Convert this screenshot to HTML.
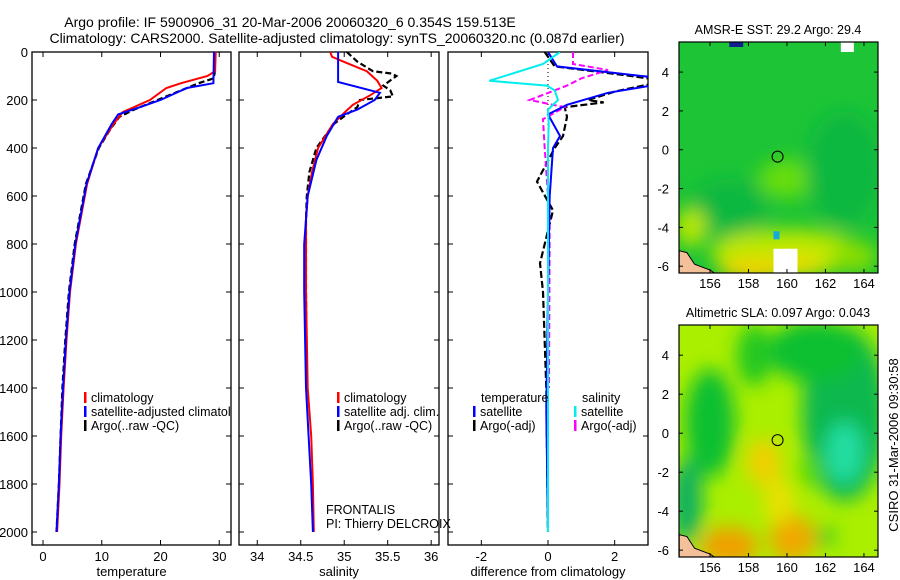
<!DOCTYPE html>
<html><head><meta charset="utf-8"><style>
html,body{margin:0;padding:0;background:#fff;}
svg{display:block;font-family:"Liberation Sans",sans-serif;}
</style></head><body>
<svg id="fig" width="900" height="580" viewBox="0 0 900 580">
<defs>
<filter id="blur1" x="-50%" y="-50%" width="200%" height="200%"><feGaussianBlur stdDeviation="9"/></filter>
<clipPath id="c1"><rect x="32" y="52" width="199" height="493"/></clipPath>
<clipPath id="c2"><rect x="239" y="52" width="200" height="493"/></clipPath>
<clipPath id="c3"><rect x="448" y="52" width="200" height="493"/></clipPath>
<clipPath id="m1"><rect x="679" y="42" width="199" height="231"/></clipPath>
<clipPath id="m2"><rect x="679" y="325" width="199" height="232"/></clipPath>
</defs>
<text x="290" y="27" font-size="14" text-anchor="middle">Argo profile: IF 5900906_31 20-Mar-2006 20060320_6 0.354S 159.513E</text>
<text x="337" y="43" font-size="14" text-anchor="middle">Climatology: CARS2000. Satellite-adjusted climatology: synTS_20060320.nc (0.087d earlier)</text>
<g id="maps"></g>
<g id="panels"></g>
<text transform="translate(898,445) rotate(-90)" font-size="13" text-anchor="middle">CSIRO 31-Mar-2006 09:30:58</text>
</svg>
<script>
// ---------- data ----------
const depthTicks=[0,200,400,600,800,1000,1200,1400,1600,1800,2000];
const tempTicks=[0,10,20,30];
const salTicks=[34,34.5,35,35.5,36];
const salTickLabels=["34","34.5","35","35.5","36"];
const diffTicks=[-2,0,2];
// temperature panel
const tClimDepth=[0,80,100,130,150,200,250,300,400,550,800,1000,1200,1400,1600,1800,2000];
const tClimVal=[29.4,29.3,28.0,23.5,21.0,18.2,13.6,12.0,9.4,7.5,5.6,4.6,4.0,3.5,3.1,2.8,2.4];
const tSatDepth=[0,130,150,200,230,260,300,400,550,800,1000,1200,1400,1600,1800,2000];
const tSatVal=[29.1,29.0,24.5,20.0,16.5,12.8,11.7,9.4,7.4,5.5,4.5,3.9,3.4,3.0,2.7,2.3];
const tArgoDepth=[0,90,110,130,160,200,240,270,320,400,550,800,1000,1200,1400,1600,1800,2000];
const tArgoVal=[29.3,29.2,29.0,26.5,23.5,19.5,15.5,13.0,11.5,9.5,7.3,5.4,4.4,3.8,3.3,3.0,2.7,2.3];
// salinity panel
const sClimDepth=[0,20,40,80,120,150,180,220,250,300,400,500,600,700,1000,1400,1600,1800,2000];
const sClimVal=[34.84,34.86,34.99,35.26,35.38,35.43,35.30,35.10,35.01,34.87,34.70,34.63,34.58,34.56,34.56,34.58,34.62,34.64,34.65];
const sSatDepth=[0,125,170,200,240,270,350,450,600,800,1000,1400,1600,1800,2000];
const sSatVal=[34.93,34.93,35.41,35.35,35.15,34.93,34.80,34.68,34.58,34.54,34.54,34.56,34.59,34.62,34.64];
const sArgoDepth=[0,40,80,90,100,140,160,185,200,230,260,300,400,500,600,700,1000,1400];
const sArgoVal=[35.03,35.15,35.33,35.55,35.60,35.45,35.53,35.56,35.18,35.15,35.03,34.88,34.68,34.60,34.57,34.56,34.56,34.57];
// difference panel
const dTsatDepth=[0,60,100,110,140,170,220,260,350,400,600,1000,1500,2000];
const dTsatVal=[0.0,0.27,2.8,3.5,3.1,1.8,0.57,0.0,0.36,0.15,0.05,0.0,-0.05,0.0];
const dTargoDepth=[0,60,100,120,130,165,200,210,230,270,350,400,540,660,880,1000,1400,2000];
const dTargoVal=[-0.1,0.2,2.5,3.5,3.2,2.0,1.2,1.67,0.5,0.57,0.45,0.2,-0.33,0.15,-0.24,-0.15,-0.05,0.0];
const dSsatDepth=[0,50,120,140,160,200,240,300,400,1000,2000];
const dSsatVal=[0.36,-0.15,-1.76,-0.03,0.2,0.3,0.0,0.02,0.0,0.0,0.0];
const dSargoDepth=[0,50,75,110,140,200,230,280,400,700,1400];
const dSargoVal=[0.75,0.75,1.8,1.0,0.57,-0.55,0.5,-0.15,-0.1,0.05,0.03];
// maps
const lonTicks=[156,158,160,162,164];
const latTicks=[-6,-4,-2,0,2,4];
const argoLon=159.513, argoLat=-0.354;

const NS='http://www.w3.org/2000/svg';
function mk(tag,attrs,parent){const e=document.createElementNS(NS,tag);for(const k in attrs)e.setAttribute(k,attrs[k]);if(parent)parent.appendChild(e);return e;}
const panels=document.getElementById('panels');
const yD=d=>52+d*0.24;

function panel(x0,x1,xmin,xmax,ticks,tickLabels,xlabel,name,clip,showY){
  const sx=v=>x0+(v-xmin)/(xmax-xmin)*(x1-x0);
  const g=mk('g',{},panels);
  
  
  const fr=mk('rect',{x:x0,y:52,width:x1-x0,height:493,fill:'none',stroke:'#000','stroke-width':1.3},g);
  
  
  depthTicks.forEach(d=>{
    mk('line',{x1:x0,x2:x0+5,y1:yD(d),y2:yD(d),stroke:'#000'},g);
    mk('line',{x1:x1-5,x2:x1,y1:yD(d),y2:yD(d),stroke:'#000'},g);
    if(showY){const t=mk('text',{x:28,y:yD(d)+5,'font-size':13,'text-anchor':'end'},g);t.textContent=d;
      
      }
  });
  ticks.forEach((v,i)=>{
    mk('line',{x1:sx(v),x2:sx(v),y1:52,y2:57,stroke:'#000'},g);
    mk('line',{x1:sx(v),x2:sx(v),y1:540,y2:545,stroke:'#000'},g);
    const t=mk('text',{x:sx(v),y:561,'font-size':13,'text-anchor':'middle'},g);t.textContent=tickLabels[i];
    
    
  });
  const xl=mk('text',{x:(x0+x1)/2,y:576,'font-size':13,'text-anchor':'middle'},g);xl.textContent=xlabel;
  
  
  const lines=mk('g',{'clip-path':'url(#'+clip+')'},g);
  return {sx,g,lines};
}
function series(p,depths,vals,color,dash,name,w){
  const pts=depths.map((d,i)=>p.sx(vals[i]).toFixed(1)+','+yD(d).toFixed(1)).join(' ');
  const a={points:pts,fill:'none',stroke:color,'stroke-width':w||2};
  if(dash)a['stroke-dasharray']=dash;
  const l=mk('polyline',a,p.lines);
  
  
}
function legend(g,x,y,color,label,name){
  mk('rect',{x:x,y:y-10,width:2.5,height:11,fill:color},g);
  const t=mk('text',{x:x+7,y:y,'font-size':12.5},g);t.textContent=label;
  
  
}
// Panel 1
const p1=panel(32,231,-1.875,32,tempTicks,tempTicks.map(String),'temperature','temperature-panel','c1',true);
series(p1,tArgoDepth,tArgoVal,'#000','6,3','temp-argo-line',2.2);
series(p1,tClimDepth,tClimVal,'#f00',null,'temp-climatology-line');
series(p1,tSatDepth,tSatVal,'#00f',null,'temp-satellite-line');
const lg1=mk('g',{'clip-path':'url(#c1)'},p1.g);
legend(lg1,84,402,'#f00','climatology','legend-climatology');
legend(lg1,84,416,'#00f','satellite-adjusted climatology','legend-satellite-adjusted');
legend(lg1,84,430,'#000','Argo(..raw -QC)','legend-argo');
// Panel 2
const p2=panel(239,439,33.79,36.09,salTicks,salTickLabels,'salinity','salinity-panel','c2',false);
series(p2,sArgoDepth,sArgoVal,'#000','6,3','sal-argo-line',2.2);
series(p2,sClimDepth,sClimVal,'#f00',null,'sal-climatology-line');
series(p2,sSatDepth,sSatVal,'#00f',null,'sal-satellite-line');
legend(p2.g,337,402,'#f00','climatology','legend-sal-climatology');
legend(p2.g,337,416,'#00f','satellite adj. clim.','legend-sal-satellite');
legend(p2.g,337,430,'#000','Argo(..raw -QC)','legend-sal-argo');
const f1=mk('text',{x:326,y:514,'font-size':12.5},p2.g);f1.textContent='FRONTALIS';


const f2=mk('text',{x:326,y:528,'font-size':12.5},p2.g);f2.textContent='PI: Thierry DELCROIX';


// Panel 3
const p3=panel(448,648,-3,3,diffTicks,diffTicks.map(String),'difference from climatology','difference-panel','c3',false);
mk('line',{x1:548,x2:548,y1:52,y2:150,stroke:'#000','stroke-dasharray':'1,3'},p3.lines);
series(p3,dTargoDepth,dTargoVal,'#000','7,3','diff-temp-argo-line',2.2);
series(p3,dSargoDepth,dSargoVal,'#f0f','6,3','diff-sal-argo-line');
series(p3,dTsatDepth,dTsatVal,'#00f',null,'diff-temp-satellite-line');
series(p3,dSsatDepth,dSsatVal,'#0ee',null,'diff-sal-satellite-line');
mk('line',{x1:548,x2:548,y1:500,y2:532,stroke:'#0ee','stroke-width':2},p3.lines);
const th=mk('text',{x:481,y:402,'font-size':12.5},p3.g);th.textContent='temperature';


const sh=mk('text',{x:582,y:402,'font-size':12.5},p3.g);sh.textContent='salinity';


legend(p3.g,473,416,'#00f','satellite','legend-diff-temp-satellite');
legend(p3.g,473,430,'#000','Argo(-adj)','legend-diff-temp-argo');
legend(p3.g,574,416,'#0ee','satellite','legend-diff-sal-satellite');
legend(p3.g,574,430,'#f0f','Argo(-adj)','legend-diff-sal-argo');

// ---------- maps ----------
const maps=document.getElementById('maps');
function mapPanel(y0,y1,title,name,clip,blobs,base){
  const lonMin=154.39,lonMax=164.73,latMax=5.55,latMin=-6.35;
  const mx=v=>679+(v-lonMin)/(lonMax-lonMin)*199;
  const my=v=>y0+(latMax-v)/(latMax-latMin)*(y1-y0);
  const g=mk('g',{},maps);
  
  
  const inner=mk('g',{'clip-path':'url(#'+clip+')'},g);
  mk('rect',{x:679,y:y0,width:199,height:y1-y0,fill:base},inner);
  const bl=mk('g',{filter:'url(#blur1)'},inner);
  blobs.forEach(b=>mk('ellipse',{cx:mx(b[0]),cy:my(b[1]),rx:b[2]*19.3,ry:b[3]*19.4,fill:b[4]},bl));
  mk('path',{d:`M${mx(154.4)},${my(-5.2)} L${mx(154.8)},${my(-5.3)} L${mx(155.2)},${my(-5.9)} L${mx(156)},${my(-6.2)} L${mx(156.3)},${my(-6.4)} L${mx(154.4)},${my(-6.4)} Z`,fill:'#f4c09a',stroke:'#000','stroke-width':1},inner);
  const c=mk('circle',{cx:mx(argoLon),cy:my(argoLat),r:5.5,fill:'none',stroke:'#000'},g);
  
  
  mk('rect',{x:679,y:y0,width:199,height:y1-y0,fill:'none',stroke:'#000','stroke-width':1.2},g);
  lonTicks.forEach(v=>{
    mk('line',{x1:mx(v),x2:mx(v),y1:y0,y2:y0+4,stroke:'#000'},g);
    mk('line',{x1:mx(v),x2:mx(v),y1:y1-4,y2:y1,stroke:'#000'},g);
    const t=mk('text',{x:mx(v),y:y1+15,'font-size':13,'text-anchor':'middle'},g);t.textContent=v;
    
    
  });
  latTicks.forEach(v=>{
    mk('line',{x1:679,x2:683,y1:my(v),y2:my(v),stroke:'#000'},g);
    mk('line',{x1:874,x2:878,y1:my(v),y2:my(v),stroke:'#000'},g);
    const t=mk('text',{x:669,y:my(v)+5,'font-size':13,'text-anchor':'end'},g);t.textContent=v;
    
    
  });
  const tt=mk('text',{x:778,y:y0-8,'font-size':12.5,'text-anchor':'middle'},g);tt.textContent=title;
  
  
  return {mx,my,inner};
}
const sst=mapPanel(42,273,'AMSR-E SST: 29.2 Argo: 29.4','sst-map','m1',[
 [160,-1.5,1.5,1,'#66dd11'],[157,-3,2,1.5,'#11b840'],[163,-1,2,3,'#11b840'],
 [160,-5.3,4,1.2,'#bbe800'],[158.5,-6.2,2,0.6,'#f5d000'],[155,-4,0.8,1,'#bbe800'],
 [160.5,-6,1.5,0.6,'#e8dd00'],[163.5,-5.5,1.2,0.8,'#88dd00']
],'#1cc436');
mk('rect',{x:sst.mx(159.3),y:sst.my(-5.1),width:24,height:26,fill:'#fff'},sst.inner);
mk('rect',{x:sst.mx(157),y:sst.my(5.55),width:14,height:5,fill:'#102090'},sst.inner);
mk('rect',{x:sst.mx(162.8),y:sst.my(5.55),width:13,height:10,fill:'#fff'},sst.inner);
mk('rect',{x:sst.mx(159.3),y:sst.my(-4.2),width:6,height:8,fill:'#11aadd'},sst.inner);
const sla=mapPanel(325,557,'Altimetric SLA: 0.097 Argo: 0.043','sla-map','m2',[
 [163,1,2.2,4.5,'#11b850'],[161.5,4.2,2.5,1.6,'#11c030'],[163,-1,1,1.6,'#22dda0'],
 [156,0.5,1.3,2.8,'#11c030'],[158.3,4,0.9,1.6,'#22c820'],[154.8,-3.5,0.8,2.2,'#11b060'],
 [157,-5.8,1.5,1,'#f0a000'],[160.3,-5.4,1.2,1.2,'#f0a800'],[158.8,-1.5,0.9,1.2,'#f0d000'],
 [159.6,-3.5,0.8,1.2,'#e8e000'],[161.2,-2,0.6,0.8,'#55d800'],[162,-5.3,0.5,0.5,'#33c820']
],'#aaee00');
</script>
</body></html>
